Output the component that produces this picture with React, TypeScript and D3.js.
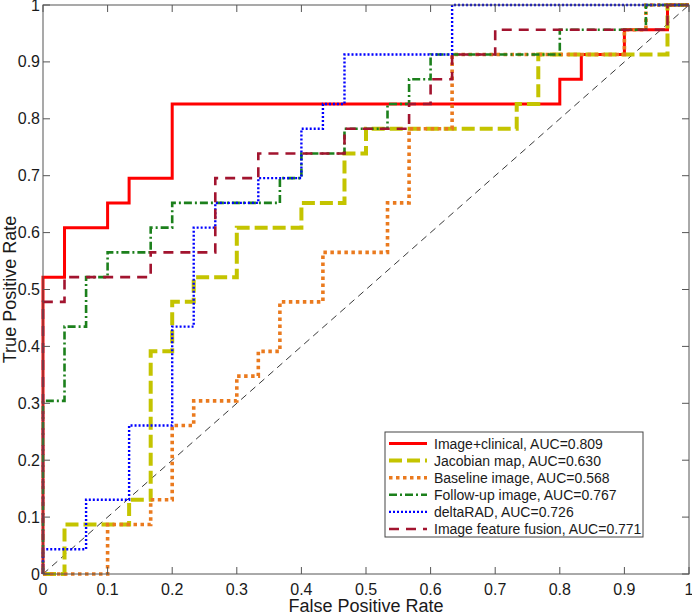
import React from "react";
import * as d3 from "d3";

const tickValues = [0, 0.1, 0.2, 0.3, 0.4, 0.5, 0.6, 0.7, 0.8, 0.9, 1];
const tickLabels = ["0", "0.1", "0.2", "0.3", "0.4", "0.5", "0.6", "0.7", "0.8", "0.9", "1"];

const seriesNames = [
  "Image+clinical, AUC=0.809",
  "Jacobian map, AUC=0.630",
  "Baseline image, AUC=0.568",
  "Follow-up image, AUC=0.767",
  "deltaRAD, AUC=0.726",
  "Image feature fusion, AUC=0.771",
];

// ROC step-curve vertices (false positive rate, true positive rate)
const clinicalFpr = [0, 0, 0.0333, 0.0333, 0.1, 0.1, 0.1333, 0.1333, 0.2, 0.2, 0.8, 0.8, 0.8333, 0.8333, 0.9, 0.9, 0.9667, 0.9667, 1];
const clinicalTpr = [0, 0.5217, 0.5217, 0.6087, 0.6087, 0.6522, 0.6522, 0.6957, 0.6957, 0.8261, 0.8261, 0.8696, 0.8696, 0.913, 0.913, 0.9565, 0.9565, 1, 1];

const jacobianFpr = [0, 0.0333, 0.0333, 0.1333, 0.1333, 0.1667, 0.1667, 0.2, 0.2, 0.2333, 0.2333, 0.3, 0.3, 0.4, 0.4, 0.4667, 0.4667, 0.5, 0.5, 0.7333, 0.7333, 0.7667, 0.7667, 0.9667, 0.9667, 1];
const jacobianTpr = [0, 0, 0.087, 0.087, 0.1304, 0.1304, 0.3913, 0.3913, 0.4783, 0.4783, 0.5217, 0.5217, 0.6087, 0.6087, 0.6522, 0.6522, 0.7391, 0.7391, 0.7826, 0.7826, 0.8261, 0.8261, 0.913, 0.913, 1, 1];

const baselineFpr = [0, 0.1, 0.1, 0.1667, 0.1667, 0.2, 0.2, 0.2333, 0.2333, 0.3, 0.3, 0.3333, 0.3333, 0.3667, 0.3667, 0.4333, 0.4333, 0.5333, 0.5333, 0.5667, 0.5667, 0.6333, 0.6333, 0.9, 0.9, 0.9333, 0.9333, 1];
const baselineTpr = [0, 0, 0.087, 0.087, 0.1304, 0.1304, 0.2609, 0.2609, 0.3043, 0.3043, 0.3478, 0.3478, 0.3913, 0.3913, 0.4783, 0.4783, 0.5652, 0.5652, 0.6522, 0.6522, 0.7826, 0.7826, 0.913, 0.913, 0.9565, 0.9565, 1, 1];

const followupFpr = [0, 0, 0.0333, 0.0333, 0.0667, 0.0667, 0.1, 0.1, 0.1667, 0.1667, 0.2, 0.2, 0.3667, 0.3667, 0.4, 0.4, 0.4667, 0.4667, 0.5333, 0.5333, 0.5667, 0.5667, 0.6, 0.6, 0.8, 0.8, 0.9333, 0.9333, 1];
const followupTpr = [0, 0.3043, 0.3043, 0.4348, 0.4348, 0.5217, 0.5217, 0.5652, 0.5652, 0.6087, 0.6087, 0.6522, 0.6522, 0.6957, 0.6957, 0.7391, 0.7391, 0.7826, 0.7826, 0.8261, 0.8261, 0.8696, 0.8696, 0.913, 0.913, 0.9565, 0.9565, 1, 1];

const deltaFpr = [0, 0, 0.0667, 0.0667, 0.1333, 0.1333, 0.2, 0.2, 0.2333, 0.2333, 0.2667, 0.2667, 0.3333, 0.3333, 0.4, 0.4, 0.4333, 0.4333, 0.4667, 0.4667, 0.6333, 0.6333, 1];
const deltaTpr = [0, 0.0435, 0.0435, 0.1304, 0.1304, 0.2609, 0.2609, 0.4348, 0.4348, 0.6087, 0.6087, 0.6522, 0.6522, 0.6957, 0.6957, 0.7826, 0.7826, 0.8261, 0.8261, 0.913, 0.913, 1, 1];

const fusionFpr = [0, 0, 0.0333, 0.0333, 0.1667, 0.1667, 0.2667, 0.2667, 0.3333, 0.3333, 0.4667, 0.4667, 0.5667, 0.5667, 0.6, 0.6, 0.6333, 0.6333, 0.7, 0.7, 0.9667, 0.9667, 1];
const fusionTpr = [0, 0.4783, 0.4783, 0.5217, 0.5217, 0.5652, 0.5652, 0.6957, 0.6957, 0.7391, 0.7391, 0.7826, 0.7826, 0.8261, 0.8261, 0.8696, 0.8696, 0.913, 0.913, 0.9565, 0.9565, 1, 1];

const seriesFpr = [clinicalFpr, jacobianFpr, baselineFpr, followupFpr, deltaFpr, fusionFpr];
const seriesTpr = [clinicalTpr, jacobianTpr, baselineTpr, followupTpr, deltaTpr, fusionTpr];

const styles = [
  { color: "#ff0000", width: 3, dash: "none" },
  { color: "#c4c400", width: 4, dash: "13,5" },
  { color: "#ea7a1e", width: 3.6, dash: "3.5,3.5" },
  { color: "#1c801c", width: 2.6, dash: "8,3,2,3" },
  { color: "#0000ff", width: 2.4, dash: "2,2" },
  { color: "#a2142f", width: 2.6, dash: "10,7" },
];

const W = 692;
const H = 615;
const M = { left: 43, right: 3, top: 5, bottom: 41 };

export default function App() {
  const x = d3.scaleLinear().domain([0, 1]).range([M.left, W - M.right]);
  const y = d3.scaleLinear().domain([0, 1]).range([H - M.bottom, M.top]);
  const line = d3
    .line<[number, number]>()
    .x((d) => x(d[0]))
    .y((d) => y(d[1]));

  const font = "'Liberation Sans', Arial, Helvetica, sans-serif";
  const tickLen = 7;
  const x0 = x(0), x1 = x(1), y0 = y(0), y1 = y(1);

  const legX = 385, legY = 432, legW = 258, legH = 105, rowH = 17.1;

  return (
    <svg
      width={W}
      height={H}
      style={{ position: "absolute", left: 0, top: 0, background: "#fff" }}
      fontFamily={font}
    >
      <rect x={0} y={0} width={W} height={H} fill="#fff" />
      {/* diagonal reference */}
      <path
        d={line([[0, 0], [1, 1]]) || ""}
        stroke="#222"
        strokeWidth={0.9}
        strokeDasharray="7,5"
        fill="none"
      />
      {/* curves */}
      {seriesFpr.map((fpr, i) => {
        const pts = fpr.map((v, k) => [v, seriesTpr[i][k]] as [number, number]);
        const s = styles[i];
        return (
          <path
            key={i}
            d={line(pts) || ""}
            fill="none"
            stroke={s.color}
            strokeWidth={s.width}
            strokeDasharray={s.dash}
            strokeLinejoin="miter"
          />
        );
      })}
      {/* box */}
      <rect x={x0} y={y1} width={x1 - x0} height={y0 - y1} fill="none" stroke="#555" strokeWidth={1} />
      {/* ticks */}
      {tickValues.map((t, i) => (
        <g key={"t" + i}>
          <line x1={x(t)} x2={x(t)} y1={y0} y2={y0 - tickLen} stroke="#555" />
          <line x1={x(t)} x2={x(t)} y1={y1} y2={y1 + tickLen} stroke="#555" />
          <line x1={x0} x2={x0 + tickLen} y1={y(t)} y2={y(t)} stroke="#555" />
          <line x1={x1} x2={x1 - tickLen} y1={y(t)} y2={y(t)} stroke="#555" />
          <text x={x(t)} y={y0 + 21} textAnchor="middle" fontSize={16} fill="#1a1a1a">
            {tickLabels[i]}
          </text>
          <text x={x0 - 3} y={y(t) + 5.5} textAnchor="end" fontSize={16} fill="#1a1a1a">
            {tickLabels[i]}
          </text>
        </g>
      ))}
      {/* axis labels */}
      <text x={(x0 + x1) / 2} y={612} textAnchor="middle" fontSize={18} fill="#1a1a1a">
        False Positive Rate
      </text>
      <text
        transform={`translate(16,${(y0 + y1) / 2}) rotate(-90)`}
        textAnchor="middle"
        fontSize={18}
        fill="#1a1a1a"
      >
        True Positive Rate
      </text>
      {/* legend */}
      <rect x={legX} y={legY} width={legW} height={legH} fill="#fff" stroke="#444" strokeWidth={1} />
      {seriesNames.map((name, i) => {
        const cy = legY + 11.5 + i * rowH;
        const s = styles[i];
        return (
          <g key={"l" + i}>
            <line
              x1={legX + 4}
              x2={legX + 42}
              y1={cy}
              y2={cy}
              stroke={s.color}
              strokeWidth={s.width}
              strokeDasharray={s.dash}
            />
            <text x={legX + 49} y={cy + 5} fontSize={14} fill="#1a1a1a">
              {name}
            </text>
          </g>
        );
      })}
    </svg>
  );
}
